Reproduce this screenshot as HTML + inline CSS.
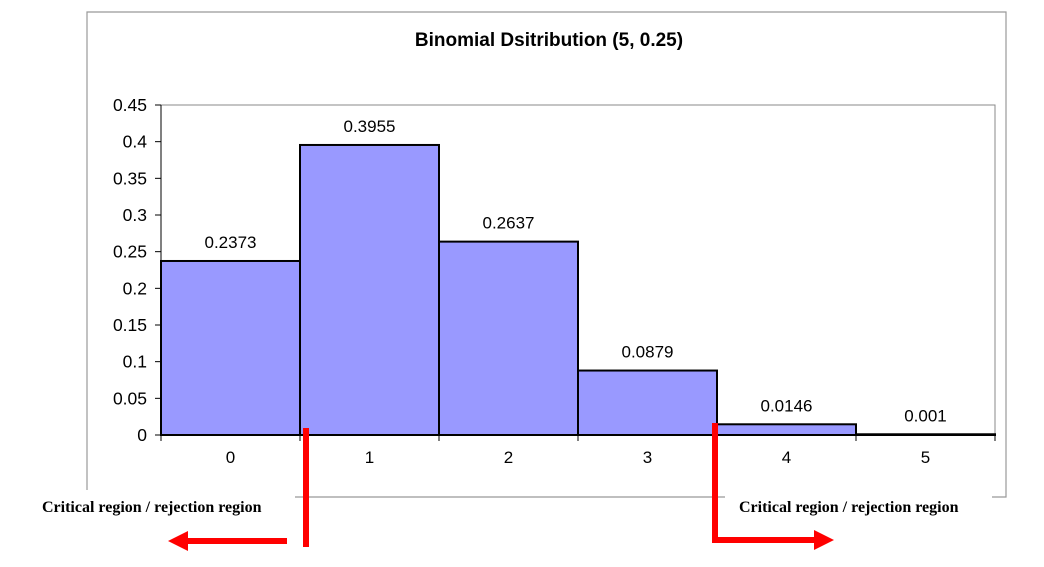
<!DOCTYPE html>
<html><head><meta charset="utf-8"><style>body{margin:0;background:#fff}svg{display:block}</style></head>
<body>
<svg width="1044" height="567" viewBox="0 0 1044 567" xmlns="http://www.w3.org/2000/svg">
<rect width="1044" height="567" fill="#fff"/>
<path d="M87,490 V12 H1006 V497 H992 M725,497 H295" fill="none" stroke="#999" stroke-width="1.2"/>
<text x="549" y="46" text-anchor="middle" font-family="Liberation Sans, sans-serif" font-weight="bold" font-size="19">Binomial Dsitribution (5, 0.25)</text>
<rect x="161" y="105" width="834" height="330" fill="#fff" stroke="#888"/>
<g id="bars"></g>
<g id="axes"></g>
<g font-family="Liberation Serif, serif" font-weight="bold" font-size="16">
<text x="42" y="512">Critical region / rejection region</text>
<text x="739" y="512">Critical region / rejection region</text>
</g>
<g fill="#f00" stroke="none">
<rect x="303" y="428" width="6" height="119"/>
<rect x="186" y="538" width="101" height="6"/>
<polygon points="168,541 188,531 188,551"/>
<rect x="712" y="423" width="6" height="120"/>
<rect x="712" y="537" width="103" height="6"/>
<polygon points="834,540 814,530 814,550"/>
</g>
</svg>
<script>
const categories=["0","1","2","3","4","5"];
const values=[0.2373,0.3955,0.2637,0.0879,0.0146,0.001];
const labels=["0.2373","0.3955","0.2637","0.0879","0.0146","0.001"];
const yTicks=[0,0.05,0.1,0.15,0.2,0.25,0.3,0.35,0.4,0.45];
const yTickLabels=["0","0.05","0.1","0.15","0.2","0.25","0.3","0.35","0.4","0.45"];
const NS="http://www.w3.org/2000/svg";
const L=161,R=995,T=105,B=435,yMax=0.45;
const y=v=>B-(v/yMax)*(B-T);
const bw=(R-L)/categories.length;
const x=i=>L+i*bw;
function mk(t,a,p){const e=document.createElementNS(NS,t);for(const k in a)e.setAttribute(k,a[k]);p.appendChild(e);return e;}
const bars=document.getElementById('bars'),axes=document.getElementById('axes');
values.forEach((v,i)=>{
 const r=mk('rect',{x:x(i),y:y(v),width:bw,height:B-y(v),fill:'#9999ff',stroke:'#000','stroke-width':2},bars);
 
 
 const t=mk('text',{x:x(i)+bw/2,y:y(v)-13,'text-anchor':'middle','font-family':'Liberation Sans, sans-serif','font-size':17},bars);
 t.textContent=labels[i];
 
 
 const c=mk('text',{x:x(i)+bw/2,y:B+28,'text-anchor':'middle','font-family':'Liberation Sans, sans-serif','font-size':17},axes);
 c.textContent=categories[i];
 
 
});
for(let i=0;i<=categories.length;i++){mk('line',{x1:x(i),x2:x(i),y1:B,y2:B+6,stroke:'#000'},axes);}
mk('line',{x1:L,x2:L,y1:T,y2:B,stroke:'#000'},axes);
mk('line',{x1:L,x2:R,y1:B,y2:B,stroke:'#000','stroke-width':2},axes);
yTicks.forEach((v,i)=>{
 mk('line',{x1:L-6,x2:L,y1:y(v),y2:y(v),stroke:'#000'},axes);
 const t=mk('text',{x:L-14,y:y(v)+6,'text-anchor':'end','font-family':'Liberation Sans, sans-serif','font-size':17.5},axes);
 t.textContent=yTickLabels[i];
 
 
});
</script>
</body></html>
